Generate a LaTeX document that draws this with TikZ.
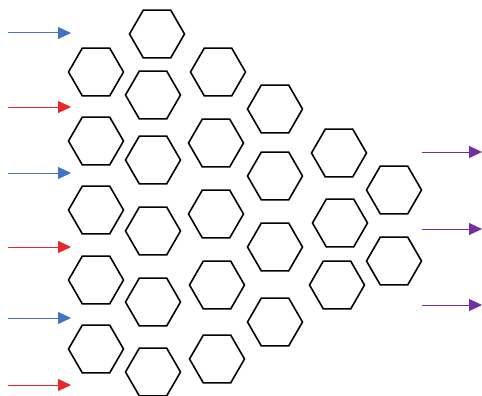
\documentclass[tikz,border=0pt]{standalone}
\usepackage{tikz}
\usetikzlibrary{arrows.meta, shapes.geometric}
\definecolor{feedBlue}{HTML}{4472C4}
\definecolor{feedRed}{HTML}{E8262B}
\definecolor{outPurple}{HTML}{7030A0}

\begin{document}
\begin{tikzpicture}[
          x=1pt, y=-1pt,
          hexcell/.style={regular polygon, regular polygon sides=6, minimum size=55pt, inner sep=0pt, draw=black, line width=1.6pt},
          feed/.style={-{Triangle[length=13pt, width=12pt]}, line width=1pt}
        ]
        \useasboundingbox (0,0) rectangle (482,396);
        % hexagon columns, left to right
        \foreach \y [count=\i] in {72,141,210,280,349}
          \node[hexcell] (a\i) at (96,\y) {};
        \foreach \x/\y [count=\i] in {157/34,153/95,153/160,153/231,153/302,153/372}
          \node[hexcell] (b\i) at (\x,\y) {};
        \foreach \x/\y [count=\i] in {218/72,216/143,216/214,217/285,217/359}
          \node[hexcell] (c\i) at (\x,\y) {};
        \foreach \y [count=\i] in {109,176,247,322}
          \node[hexcell] (d\i) at (275,\y) {};
        \foreach \x/\y [count=\i] in {339/153,340/223,337/285}
          \node[hexcell] (e\i) at (\x,\y) {};
        \foreach \y [count=\i] in {190,261}
          \node[hexcell] (f\i) at (394,\y) {};
        % input arrows
        \foreach \y/\col [count=\i] in {33/feedBlue,107/feedRed,173/feedBlue,247/feedRed,318/feedBlue,385/feedRed} {
          \coordinate (src\i) at (8,\y);
          \coordinate (tip\i) at (71,\y);
          \draw[feed, draw=\col, fill=\col] (src\i) -- (tip\i);
        }
        % output arrows
        \foreach \y [count=\i] in {152,229,305} {
          \coordinate (outsrc\i) at (422,\y);
          \coordinate (outtip\i) at (482,\y);
          \draw[feed, draw=outPurple, fill=outPurple] (outsrc\i) -- (outtip\i);
        }
      \end{tikzpicture}
\end{document}
